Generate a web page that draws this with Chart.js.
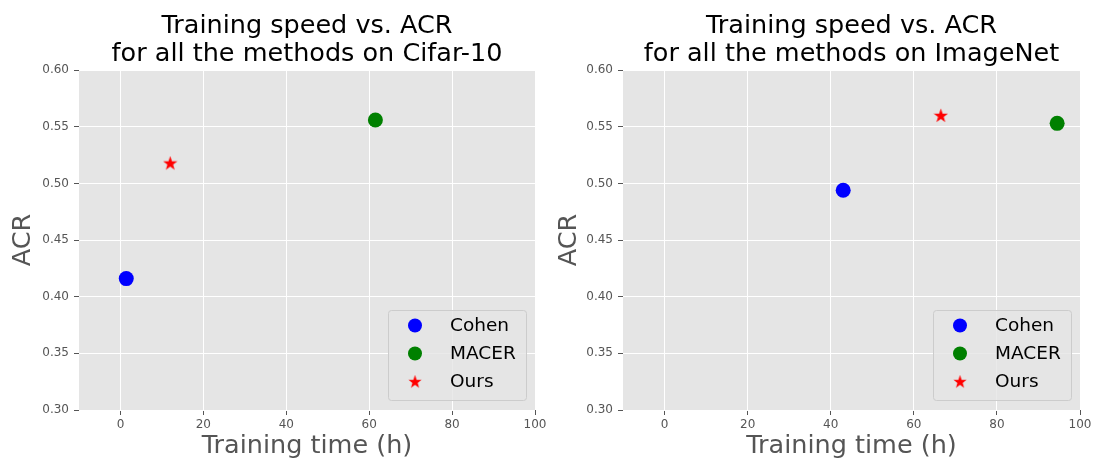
<!DOCTYPE html>
<html>
<head>
<meta charset="utf-8">
<script src="https://cdn.jsdelivr.net/npm/chart.js@4/dist/chart.umd.min.js"></script>
<style>
  html, body { margin: 0; padding: 0; background: #fff; }
  #wrap { display: flex; width: 1093px; height: 459px; }
  .box { position: relative; height: 459px; }
</style>
</head>
<body>
<div id="wrap">
  <div class="box" style="width:546px"><canvas id="cifarChart"></canvas></div>
  <div class="box" style="width:547px"><canvas id="imagenetChart"></canvas></div>
</div>
<script>
'use strict';
// data
const methods = ['Cohen', 'MACER', 'Ours'];
const methodColors = ['#0000ff', '#008000', '#ff0000'];
const cifarTime = [1.4, 61.5, 12];
const cifarAcr = [0.416, 0.556, 0.518];
const imagenetTime = [43, 94.5, 66.5];
const imagenetAcr = [0.494, 0.553, 0.560];
const xTicks = [0, 20, 40, 60, 80, 100];
const yTicks = [0.30, 0.35, 0.40, 0.45, 0.50, 0.55, 0.60];

Chart.defaults.font.family = "'DejaVu Sans', sans-serif";
Chart.defaults.color = '#555555';

// filled 5-point star used as the "Ours" marker
function makeStar(size, color) {
    let c = document.createElement('canvas');
    c.width = size;
    c.height = size;
    let g = c.getContext('2d');
    let cx = size / 2, cy = size / 2 + 0.6;
    let outer = size / 2, inner = outer * 0.4;
    g.beginPath();
    for (let i = 0; i < 10; i++) {
        let r = i % 2 === 0 ? outer : inner;
        let a = -Math.PI / 2 + i * Math.PI / 5;
        g.lineTo(cx + r * Math.cos(a), cy + r * Math.sin(a));
    }
    g.closePath();
    g.fillStyle = color;
    g.fill();
    return c;
}
const starImg = makeStar(15, methodColors[2]);
const markerStyles = ['circle', 'circle', starImg];

const panelBg = {
    id: 'panelBg',
    beforeDraw(chart) {
        let {ctx, chartArea: a} = chart;
        ctx.save();
        ctx.fillStyle = '#e5e5e5';
        ctx.fillRect(a.left, a.top, a.right - a.left, a.bottom - a.top);
        ctx.restore();
    }
};

// legend in the lower right corner of the plot area
const innerLegend = {
    id: 'innerLegend',
    afterDraw(chart) {
        let {ctx, chartArea: a} = chart;
        let w = 138, h = 90;
        let x = Math.round(a.right - 9 - w), y = Math.round(a.bottom - 10 - h);
        ctx.save();
        ctx.beginPath();
        ctx.roundRect(x + 0.5, y + 0.5, w, h, 3);
        ctx.fillStyle = 'rgba(229,229,229,0.8)';
        ctx.fill();
        ctx.strokeStyle = '#cccccc';
        ctx.lineWidth = 1;
        ctx.stroke();
        ctx.font = "18.5px 'DejaVu Sans', sans-serif";
        ctx.textBaseline = 'middle';
        methods.forEach((name, i) => {
            let ry = y + 15.5 + i * 28;
            let mx = x + 27;
            if (i < 2) {
                ctx.beginPath();
                ctx.arc(mx, ry, 7, 0, Math.PI * 2);
                ctx.fillStyle = methodColors[i];
                ctx.fill();
            } else {
                ctx.drawImage(starImg, mx - 7, ry - 7, 14, 14);
            }
            ctx.fillStyle = '#000000';
            ctx.fillText(name, x + 62, ry + 1);
        });
        ctx.restore();
    }
};

function makeChart(canvasId, titleLines, times, acrs, yWidth, rightPad) {
    let ctx = document.getElementById(canvasId).getContext('2d');
    return new Chart(ctx, {
        type: 'scatter',
        data: {
            datasets: methods.map((name, i) => ({
                label: name,
                data: [{x: times[i], y: acrs[i]}],
                backgroundColor: methodColors[i],
                borderColor: methodColors[i],
                borderWidth: 0,
                pointStyle: markerStyles[i],
                pointRadius: 7.5
            }))
        },
        options: {
            maintainAspectRatio: false,
            responsive: true,
            animation: false,
            events: [],
            layout: {
                padding: {left: 0, right: rightPad, top: 0, bottom: 0}
            },
            scales: {
                x: {
                    type: 'linear',
                    min: -10,
                    max: 100,
                    afterBuildTicks: scale => { scale.ticks = xTicks.map(v => ({value: v})); },
                    afterFit: scale => {
                        scale.height = 49;
                        scale.paddingLeft = 0;
                        scale.paddingRight = 0;
                    },
                    border: {display: false},
                    grid: {color: '#ffffff', lineWidth: 1, tickColor: '#555555', tickLength: 5, drawTicks: true},
                    ticks: {font: {size: 12}, color: '#555555', padding: 3, maxRotation: 0, autoSkip: false},
                    title: {
                        display: true,
                        text: 'Training time (h)',
                        color: '#555555',
                        font: {size: 25.5, lineHeight: 1.0},
                        padding: {top: 0, bottom: 0}
                    }
                },
                y: {
                    type: 'linear',
                    min: 0.30,
                    max: 0.60,
                    afterBuildTicks: scale => { scale.ticks = yTicks.map(v => ({value: v})); },
                    afterFit: scale => {
                        scale.width = yWidth;
                        scale.paddingTop = 0;
                        scale.paddingBottom = 0;
                    },
                    border: {display: false},
                    grid: {color: '#ffffff', lineWidth: 1, tickColor: '#555555', tickLength: 5, drawTicks: true},
                    ticks: {
                        font: {size: 12},
                        color: '#555555',
                        padding: 5,
                        autoSkip: false,
                        callback: value => value.toFixed(2)
                    },
                    title: {
                        display: true,
                        text: 'ACR',
                        color: '#555555',
                        font: {size: 25.5},
                        padding: {top: 8, bottom: 0}
                    }
                }
            },
            plugins: {
                legend: {display: false},
                tooltip: {enabled: false},
                title: {
                    display: true,
                    text: titleLines,
                    color: '#000000',
                    fullSize: false,
                    font: {size: 25.5, weight: 'normal', lineHeight: 1.1},
                    padding: {top: 12, bottom: 2}
                }
            }
        },
        plugins: [panelBg, innerLegend]
    });
}

let cifarChart = makeChart('cifarChart',
    ['Training speed vs. ACR', 'for all the methods on Cifar-10'],
    cifarTime, cifarAcr, 79, 11);
let imagenetChart = makeChart('imagenetChart',
    ['Training speed vs. ACR', 'for all the methods on ImageNet'],
    imagenetTime, imagenetAcr, 77, 13);
</script>
</body>
</html>
